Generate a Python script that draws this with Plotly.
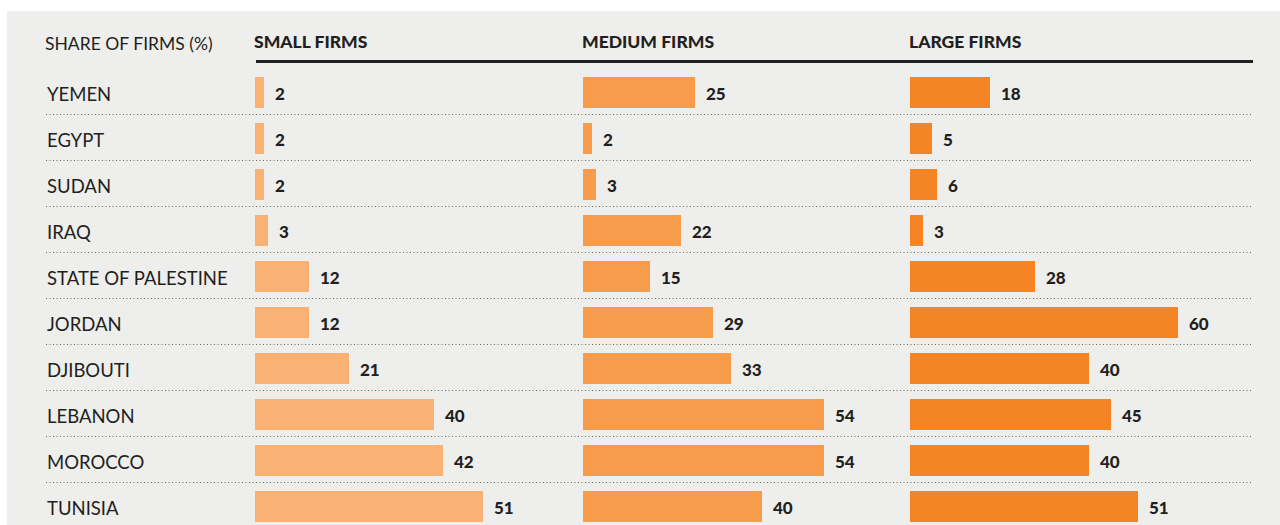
import plotly.graph_objects as go

# 数据
countries = ["YEMEN", "EGYPT", "SUDAN", "IRAQ", "STATE OF PALESTINE",
             "JORDAN", "DJIBOUTI", "LEBANON", "MOROCCO", "TUNISIA"]
small_firms = [2, 2, 2, 3, 12, 12, 21, 40, 42, 51]
medium_firms = [25, 2, 3, 22, 15, 29, 33, 54, 54, 40]
large_firms = [18, 5, 6, 3, 28, 60, 40, 45, 40, 51]
column_titles = ["SMALL FIRMS", "MEDIUM FIRMS", "LARGE FIRMS"]
left_title = "SHARE OF FIRMS (%)"

COLORS = ["#F9B274", "#F79C4A", "#F58424"]
INK = "#231f20"
BG = "#EEEEEC"
W, H = 1280, 525
FONT = "Lato"

fig = go.Figure()

# 三列柱的起点(像素)
col_x0 = [255, 583, 910]
px_per_unit = 4.47
x_max = 73
series = [small_firms, medium_firms, large_firms]
axes = ["x", "x2", "x3"]

for i, vals in enumerate(series):
    fig.add_trace(go.Bar(
        x=vals, y=countries, orientation="h",
        marker=dict(color=COLORS[i], line=dict(width=0)),
        width=0.674, xaxis=axes[i], yaxis="y",
        hoverinfo="x+y", showlegend=False,
    ))
    for c, v in zip(countries, vals):
        fig.add_annotation(x=v, y=c, xref=axes[i], yref="y", text=str(v),
                           showarrow=False, xanchor="left", xshift=9, yshift=-1.5,
                           font=dict(family=FONT, size=17, color=INK, weight=900))
    fig.add_annotation(x=col_x0[i] / W, y=(H - 42) / H, xref="paper", yref="paper",
                       text=column_titles[i], showarrow=False,
                       xanchor="left", yanchor="middle", xshift=-3,
                       font=dict(family=FONT, size=17.5, color=INK, weight=900))

for c in countries:
    fig.add_annotation(x=48 / W, y=c, xref="paper", yref="y", text=c,
                       showarrow=False, xanchor="left", xshift=-3, yshift=-2,
                       font=dict(family=FONT, size=18.5, color=INK))

fig.add_annotation(x=46 / W, y=(H - 43) / H, xref="paper", yref="paper",
                   text=left_title, showarrow=False, xanchor="left", yanchor="middle", xshift=-3,
                   font=dict(family=FONT, size=17.5, color=INK))

# 背景、表头线、点线
shapes = [
    dict(type="rect", xref="paper", yref="paper", x0=7 / W, x1=1, y0=0, y1=(H - 11) / H,
         fillcolor=BG, line=dict(width=0), layer="below"),
    dict(type="line", xref="paper", yref="paper", x0=256 / W, x1=1253 / W,
         y0=(H - 61.5) / H, y1=(H - 61.5) / H, line=dict(color=INK, width=3)),
]
for k in range(len(countries) - 1):
    shapes.append(dict(type="line", xref="paper", yref="y", x0=46 / W, x1=1253 / W,
                       y0=k + 0.5, y1=k + 0.5,
                       line=dict(color="#666666", width=1, dash="1px,2.5px")))

axis_common = dict(range=[0, x_max], visible=False, fixedrange=True)
fig.update_layout(
    width=W, height=H,
    margin=dict(l=0, r=0, t=0, b=0),
    paper_bgcolor="white", plot_bgcolor="rgba(0,0,0,0)",
    bargap=0,
    shapes=shapes,
    xaxis=dict(domain=[col_x0[0] / W, (col_x0[0] + x_max * px_per_unit) / W], anchor="y", **axis_common),
    xaxis2=dict(domain=[col_x0[1] / W, (col_x0[1] + x_max * px_per_unit) / W], anchor="y", **axis_common),
    xaxis3=dict(domain=[col_x0[2] / W, (col_x0[2] + x_max * px_per_unit) / W], anchor="y", **axis_common),
    yaxis=dict(type="category", categoryorder="array", categoryarray=countries,
               range=[9 + 19.5 / 46, -0.5], domain=[0, (H - 68.5) / H],
               visible=False, fixedrange=True),
    font=dict(family=FONT, color=INK),
)

fig.write_html("out.html", config={"displayModeBar": False},
               post_script="document.body.style.margin='0';document.body.style.overflow='hidden';")
